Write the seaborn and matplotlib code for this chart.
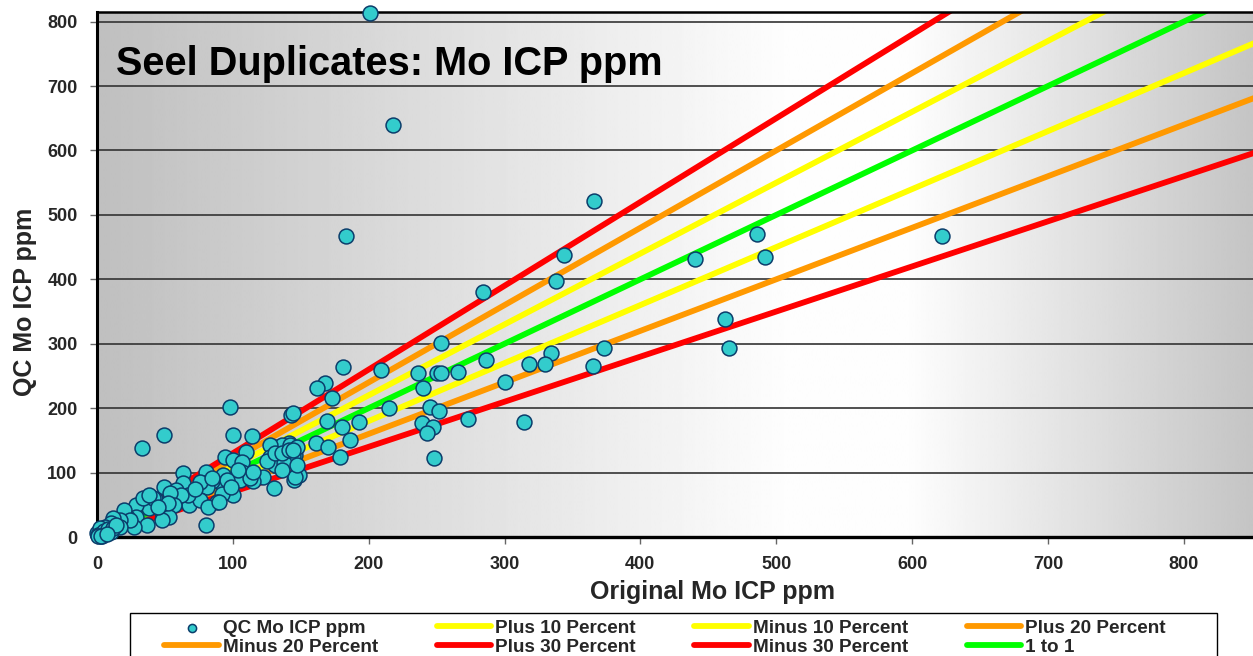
import numpy as np
import pandas as pd
import seaborn as sns
import matplotlib.pyplot as plt
from matplotlib.patches import Rectangle

# Duplicate pairs: original assay vs QC re-assay (Mo ICP, ppm)
original_ppm = [
    201, 218, 366, 183, 344, 338, 440, 486, 492, 622, 462, 465, 373, 365, 284,
    253, 334, 330, 318, 300, 286, 266, 250, 253, 236, 240, 209, 181, 168, 162,
    173, 98, 215, 245, 252, 193, 169, 143, 144, 180, 239, 247, 243, 273, 314,
    186, 248, 179, 161, 170, 146, 141, 130, 145, 149, 146, 49, 33, 114, 100,
    80, 94, 110,
    130, 133, 136, 142, 147, 127, 127, 133, 140, 144, 131, 138, 136, 147, 125,
    131, 136, 141, 144, 122,
    100, 107, 107, 105, 115, 93, 92, 85, 80, 80, 100, 92, 88, 113, 115, 104,
    96, 99,
    63, 79, 81, 63, 49, 58, 68, 76, 82, 90, 76, 67, 62, 54, 85, 72, 43, 38,
    29, 48, 57, 53, 29, 37, 22, 20, 16, 11, 5, 0, 27, 48, 41, 34, 38, 52, 45,
    24, 17, 12, 10, 6, 2, 6, 10, 17, 1, 3, 4, 5, 8, 12, 14, 2, 1, 3, 7,
]
qc_ppm = [
    814, 640, 522, 468, 437, 398, 431, 471, 435, 467, 339, 293, 293, 265, 380,
    301, 285, 268, 268, 240, 274, 256, 254, 254, 254, 232, 259, 264, 239, 231,
    216, 202, 200, 202, 195, 178, 180, 189, 192, 171, 177, 171, 161, 183, 178,
    150, 122, 124, 146, 140, 127, 146, 76, 88, 96, 93, 158, 138, 157, 158,
    19, 124, 132,
    140, 140, 143, 143, 140, 143, 124, 122, 127, 126, 112, 115, 104, 112, 118,
    130, 130, 135, 135, 93,
    119, 116, 101, 88, 87, 96, 82, 87, 79, 101, 65, 67, 54, 91, 101, 104,
    88, 78,
    99, 84, 78, 84, 78, 73, 49, 57, 47, 54, 85, 65, 65, 68, 91, 75, 59, 45,
    50, 39, 50, 31, 31, 19, 31, 42, 19, 16, 8, 6, 16, 26, 60, 60, 65, 53, 47,
    26, 26, 29, 22, 16, 14, 8, 8, 16, 3, 5, 2, 10, 12, 14, 18, 1, 1, 2, 5,
]

# Reference lines: slope relative to the 1:1 line
line_names = ["Plus 10 Percent", "Minus 10 Percent", "Plus 20 Percent",
              "Minus 20 Percent", "Plus 30 Percent", "Minus 30 Percent", "1 to 1"]
line_slopes = [1.1, 0.9, 1.2, 0.8, 1.3, 0.7, 1.0]
line_colors = ["#FFFF00", "#FFFF00", "#FF9900", "#FF9900", "#FF0000", "#FF0000", "#00FF00"]
line_span = [0, 1000]

x_ticks = [0, 100, 200, 300, 400, 500, 600, 700, 800]
y_ticks = [0, 100, 200, 300, 400, 500, 600, 700, 800]
x_max, y_max = 851, 815

sns.set_theme(style="white")
plt.rcParams["font.family"] = ["Liberation Sans", "DejaVu Sans"]
plt.rcParams["font.weight"] = "bold"

W, H = 1253, 656
fig = plt.figure(figsize=(W / 100, H / 100), dpi=100)
ax = fig.add_axes([97 / W, 1 - 537 / H, 1 - 97 / W, (537 - 12) / H])

# Horizontal grey-white-grey gradient behind the plot area
stops_x = [0.0, 0.6, 0.7, 1.0]
stops_v = [0.75, 0.995, 0.995, 0.77]
fx = np.linspace(0, 1, 600)
shade = np.interp(fx, stops_x, stops_v)[None, :]
ax.imshow(shade, cmap="gray", vmin=0, vmax=1, aspect="auto",
          extent=[0, x_max, 0, y_max], zorder=0, interpolation="bilinear")

for y in y_ticks[1:]:
    ax.axhline(y, color="#333333", lw=1.2, zorder=1)

span = np.array(line_span, dtype=float)
lines = pd.DataFrame({
    "x": np.tile(span, len(line_slopes)),
    "y": np.concatenate([s * span for s in line_slopes]),
    "series": np.repeat(line_names, len(span)),
})
for name, color in zip(line_names, line_colors):
    sub = lines[lines["series"] == name]
    sns.lineplot(data=sub, x="x", y="y", color=color, lw=4.2, ax=ax,
                 label=name, zorder=2, sort=False)

pts = pd.DataFrame({"orig": original_ppm, "qc": qc_ppm})
sns.scatterplot(data=pts, x="orig", y="qc", s=115, color="#33CCCC",
                edgecolor="#0B3D6B", linewidth=1.1, ax=ax, zorder=3,
                label="QC Mo ICP ppm", clip_on=False)

ax.set_xlim(0, x_max)
ax.set_ylim(0, y_max)
ax.set_xticks(x_ticks)
ax.set_yticks(y_ticks)
ax.tick_params(axis="both", which="both", bottom=True, left=True,
               length=5, width=1, color="#666666", pad=9, labelsize=13)
for lab in ax.get_xticklabels() + ax.get_yticklabels():
    lab.set_fontweight("bold")

for side in ["left", "bottom", "top"]:
    ax.spines[side].set_visible(True)
    ax.spines[side].set_color("black")
ax.spines["left"].set_linewidth(2.2)
ax.spines["bottom"].set_linewidth(2.4)
ax.spines["top"].set_linewidth(1.8)
ax.spines["right"].set_visible(False)

ax.set_xlabel("Original Mo ICP ppm", fontsize=18, fontweight="bold")
ax.set_ylabel("QC Mo ICP ppm", fontsize=18, fontweight="bold")
ax.xaxis.set_label_coords((713 - 97) / 1156, (537 - 580) / 525)
ax.xaxis.label.set_va("top")
ax.yaxis.set_label_coords((37 - 97) / 1156, (537 - 302) / 525)

ax.text((116 - 97) / 1156, (537 - 75) / 525, "Seel Duplicates: Mo ICP ppm",
        transform=ax.transAxes, fontsize=28.6, fontweight="bold",
        va="baseline", ha="left", color="black", zorder=5)

# Legend in a framed box under the plot, four columns
handles, labels = ax.get_legend_handles_labels()
lookup = dict(zip(labels, handles))
order = ["QC Mo ICP ppm", "Minus 20 Percent", "Plus 10 Percent", "Plus 30 Percent",
         "Minus 10 Percent", "Minus 30 Percent", "Plus 20 Percent", "1 to 1"]
ax.get_legend().remove()
fig.legend([lookup[k] for k in order], order, ncol=4, loc="upper left",
           bbox_to_anchor=(155 / W, 1 - 610 / H), frameon=False, borderpad=0,
           prop={"size": 13.6, "weight": "bold"}, handlelength=2.9,
           handletextpad=0.2, columnspacing=3.1, labelspacing=0.1,
           markerscale=0.55)
fig.add_artist(Rectangle((130 / W, -0.05), (1217 - 130) / W, 0.05 + 1 - 613 / H,
                         transform=fig.transFigure, fill=False,
                         edgecolor="black", lw=1.0))

fig.savefig("out.png", dpi=100)
